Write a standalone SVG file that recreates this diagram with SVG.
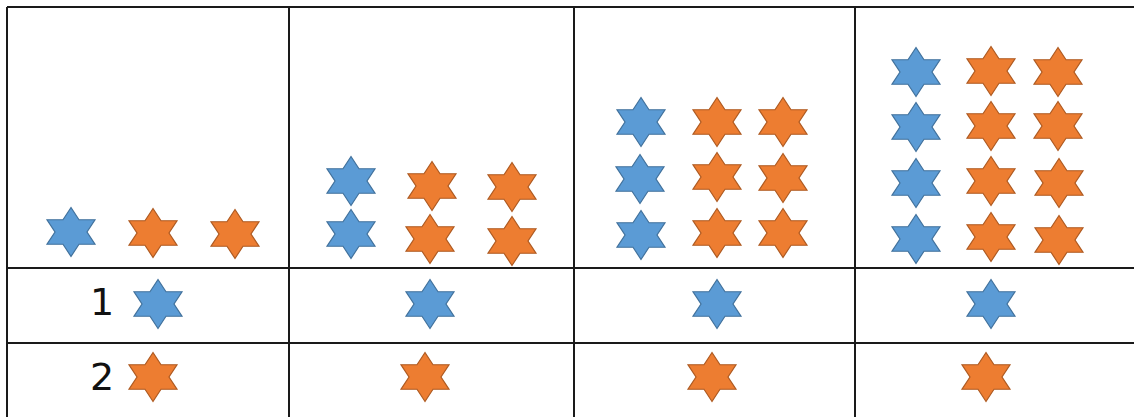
<svg xmlns="http://www.w3.org/2000/svg" xmlns:xlink="http://www.w3.org/1999/xlink" width="1134" height="417" viewBox="0 0 1134 417">
<style>
.grid{stroke:#1a1a1a;stroke-width:2;fill:none}
.b{fill:#5B9BD5;stroke:#41719C;stroke-width:1.2}
.o{fill:#ED7D31;stroke:#AE5A21;stroke-width:1.2}
.num{font-family:"DejaVu Sans","Open Sans",sans-serif;font-size:38px;fill:#111;text-anchor:middle}
</style>
<defs>
<path id="star" d="M0,-24.5 L8,-12.25 L24,-12.25 L16,0 L24,12.25 L8,12.25 L0,24.5 L-8,12.25 L-24,12.25 L-16,0 L-24,-12.25 L-8,-12.25 Z"/>
</defs>
<rect width="1134" height="417" fill="#ffffff"/>
<g id="grid" class="grid">
<line x1="7" y1="7" x2="1134" y2="7"/>
<line x1="7" y1="268" x2="1134" y2="268"/>
<line x1="7" y1="343" x2="1134" y2="343"/>
<line x1="7" y1="7" x2="7" y2="417"/>
<line x1="289" y1="7" x2="289" y2="417"/>
<line x1="574" y1="7" x2="574" y2="417"/>
<line x1="855" y1="7" x2="855" y2="417"/>
</g>
<g id="pattern1">
<use href="#star" class="b" x="71" y="232"/>
<use href="#star" class="o" x="153" y="233"/>
<use href="#star" class="o" x="235" y="234"/>
</g>
<g id="pattern2">
<use href="#star" class="b" x="351" y="181"/>
<use href="#star" class="b" x="351" y="234"/>
<use href="#star" class="o" x="432" y="186"/>
<use href="#star" class="o" x="430" y="239"/>
<use href="#star" class="o" x="512" y="187"/>
<use href="#star" class="o" x="512" y="241"/>
</g>
<g id="pattern3">
<use href="#star" class="b" x="641" y="122"/>
<use href="#star" class="b" x="640" y="179"/>
<use href="#star" class="b" x="641" y="235"/>
<use href="#star" class="o" x="717" y="122"/>
<use href="#star" class="o" x="717" y="177"/>
<use href="#star" class="o" x="717" y="233"/>
<use href="#star" class="o" x="783" y="122"/>
<use href="#star" class="o" x="783" y="178"/>
<use href="#star" class="o" x="783" y="233"/>
</g>
<g id="pattern4">
<use href="#star" class="b" x="916" y="72"/>
<use href="#star" class="b" x="916" y="127"/>
<use href="#star" class="b" x="916" y="183"/>
<use href="#star" class="b" x="916" y="239"/>
<use href="#star" class="o" x="991" y="71"/>
<use href="#star" class="o" x="991" y="126"/>
<use href="#star" class="o" x="991" y="181"/>
<use href="#star" class="o" x="991" y="237"/>
<use href="#star" class="o" x="1058" y="72"/>
<use href="#star" class="o" x="1058" y="126"/>
<use href="#star" class="o" x="1059" y="183"/>
<use href="#star" class="o" x="1059" y="240"/>
</g>
<g id="legend-blue">
<text class="num" x="102" y="315">1</text>
<use href="#star" class="b" x="158" y="304"/>
<use href="#star" class="b" x="430" y="304"/>
<use href="#star" class="b" x="717" y="304"/>
<use href="#star" class="b" x="991" y="304"/>
</g>
<g id="legend-orange">
<text class="num" x="102" y="390">2</text>
<use href="#star" class="o" x="153" y="377"/>
<use href="#star" class="o" x="425" y="377"/>
<use href="#star" class="o" x="712" y="377"/>
<use href="#star" class="o" x="986" y="377"/>
</g>
</svg>
